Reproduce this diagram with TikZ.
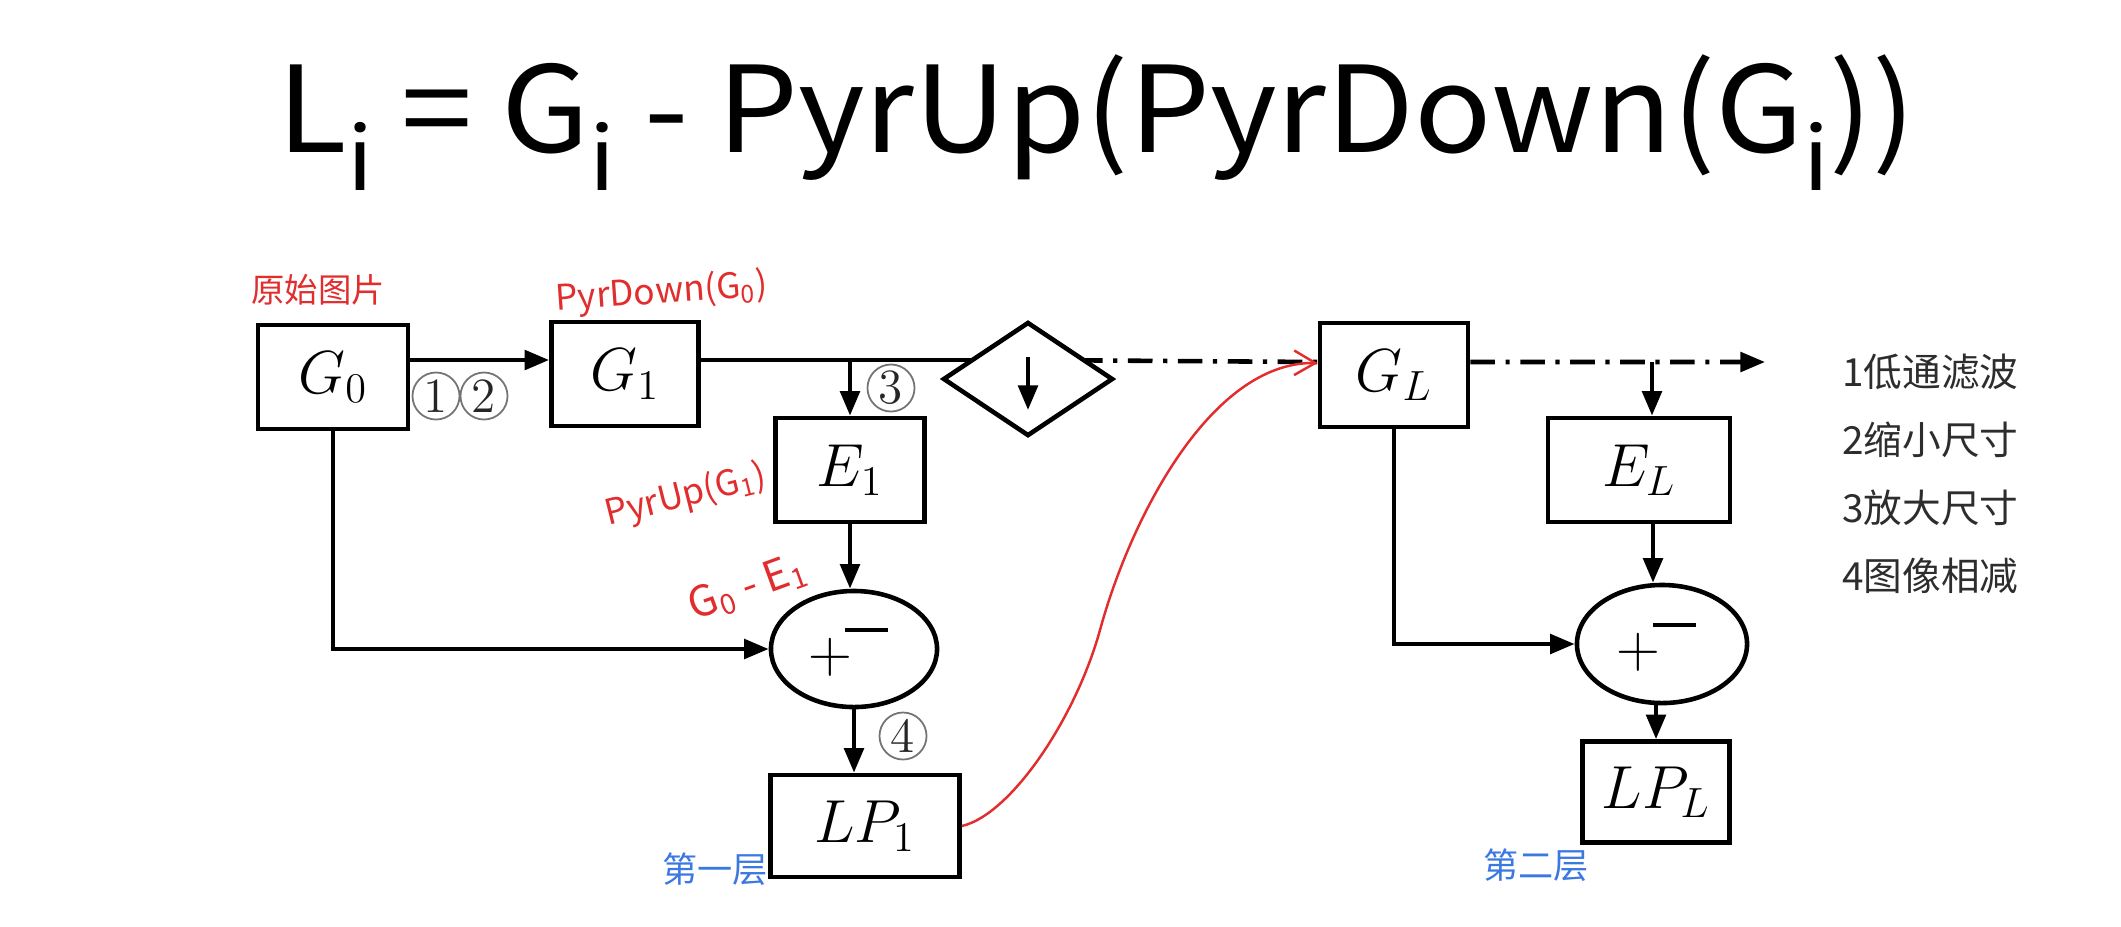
\documentclass[tikz,border=0pt]{standalone}
\usepackage{fontspec}
\newfontfamily\cjkfont{Noto Sans CJK SC}
\usetikzlibrary{arrows.meta, positioning, shapes.geometric, backgrounds}

\definecolor{inkred}{RGB}{225,45,45}
\definecolor{inkblue}{RGB}{60,120,225}
\definecolor{legendgray}{RGB}{45,45,45}

\newcommand{\lowi}{\raisebox{-0.32em}{\fontsize{25}{25}\selectfont i}}

\tikzset{
  blk/.style={draw, line width=1.3pt, fill=white, minimum width=1.5cm,
              minimum height=1.04cm, inner sep=0pt,
              font=\fontsize{17}{20}\selectfont},
  subtr/.style={draw, ellipse, line width=1.3pt, fill=white,
                minimum width=1.66cm, minimum height=1.16cm, inner sep=0pt},
  conn/.style={line width=1.3pt},
  arr/.style={conn, -{Triangle[length=7pt,width=5.5pt]}},
  dashdot/.style={conn, dash pattern=on 7pt off 3pt on 1.2pt off 3pt},
  num/.style={circle, draw=black!55, line width=0.5pt, minimum size=0.47cm,
              inner sep=0pt, text=black!85, font=\fontsize{14}{14}\selectfont},
  note/.style={text=inkred, inner sep=0pt, font=\cjkfont\fontsize{10}{10}\selectfont},
  layer/.style={text=inkblue, font=\cjkfont\fontsize{10}{10}\selectfont},
  legend/.style={anchor=west, text=legendgray,
                 font=\cjkfont\fontsize{11}{11}\selectfont},
}

\begin{document}
\begin{tikzpicture}[x=0.01cm, y=-0.01cm]
  \useasboundingbox (0,0) rectangle (2121,926);

  % formula
  \node[anchor=base west, inner sep=0pt,
        font=\cjkfont\fontsize{34}{34}\selectfont] (formula) at (277,152)
    {\scalebox{1.07}[1]{L\lowi{} = G\lowi{} - PyrUp(PyrDown(G\lowi))}};

  % blocks
  \node[blk] (G0) at (333,377) {$G_0$};
  \node[blk, minimum width=1.47cm] (G1) at (625,374) {$G_1$};
  \node[blk, minimum width=1.49cm] (E1) at (850,470) {$E_1$};
  \node[draw, diamond, line width=1.3pt, fill=white, minimum width=1.7cm,
        minimum height=1.14cm, inner sep=0pt] (dia) at (1028,379) {};
  \node[blk, minimum width=1.48cm] (GL) at (1394,375) {$G_L$};
  \node[blk, minimum width=1.82cm] (EL) at (1639,470) {$E_L$};
  \node[subtr] (sub1) at (854,649) {};
  \node[subtr, minimum width=1.7cm, minimum height=1.18cm] (sub2) at (1662,644) {};
  \node[blk, minimum width=1.89cm, minimum height=1.02cm] (LP1) at (865,826) {$LP_1$};
  \node[blk, minimum width=1.47cm, minimum height=1.01cm] (LPL) at (1656,792) {$LP_L$};

  % signs of the subtractors
  \foreach \s in {sub1, sub2} {
    \node[font=\fontsize{16}{16}\selectfont, inner sep=0pt] (plus-\s)
      at ([xshift=-0.24cm, yshift=-0.08cm]\s.center) {$+$};
    \node[fill=black, minimum width=0.43cm, minimum height=1.3pt,
          inner sep=0pt] (minus-\s) at ([xshift=0.12cm, yshift=0.19cm]\s.center) {};
  }

  % connectors
  \draw[arr] ([yshift=.17cm]G0.east) -- ([yshift=.17cm]G0.east -| G1.west);
  \coordinate (tap1) at ([yshift=.14cm]G1.east -| E1.north);
  \begin{scope}[on background layer]
    \draw[conn] ([yshift=.14cm]G1.east) -- ([yshift=.14cm]G1.east -| dia.center);
    \draw[dashdot] ([yshift=.19cm]dia.center) -- ([yshift=.13cm]GL.west);
  \end{scope}
  \draw[arr] (tap1) -- (E1.north);
  \draw[arr] ([yshift=.22cm]dia.center) -- ([yshift=-.31cm]dia.center);
  \coordinate (out) at (1765,362);
  \coordinate (tap2) at (1652,362);
  \draw[dashdot, -{Triangle[length=7pt,width=5.5pt]}] ([yshift=.13cm]GL.east) -- (out);
  \draw[arr] (tap2) -- (tap2 |- EL.north);
  \draw[arr] (G0.south) |- (sub1.west);
  \draw[arr] (E1.south) -- (E1.south |- sub1.north);
  \draw[arr] (sub1.south) -- (sub1.south |- LP1.north);
  \draw[arr] (GL.south) |- (sub2.west);
  \draw[arr] ([xshift=.14cm]EL.south) -- ([xshift=.14cm]EL.south |- sub2.north);
  \draw[arr] (LPL.north |- sub2.south) -- (LPL.north);

  % step numbers
  \node[num] (n1) at (436,396) {1};
  \node[num] (n2) at (484,396) {2};
  \node[num] (n3) at (891,388) {3};
  \node[num] (n4) at (903,736) {4};

  % handwritten notes
  \node[note, font=\cjkfont\fontsize{9.5}{10}\selectfont] (orig) at (318,290) {原始图片};
  \node[note, rotate=4] (downnote) at (662,293) {PyrDown(G\textsubscript{0})};
  \node[note, rotate=14] (upnote) at (686,496) {PyrUp(G\textsubscript{1})};
  \node[note, rotate=20, font=\cjkfont\fontsize{12}{12}\selectfont] (diffnote)
    at (748,588) {G\textsubscript{0} - E\textsubscript{1}};
  \node[layer] (lay1) at (715,869) {第一层};
  \node[layer] (lay2) at (1536,865) {第二层};
  \coordinate (bend) at (1100,630);
  \draw[inkred, line width=0.7pt, -{Straight Barb[length=6pt,width=7pt]}]
    (LP1.east) .. controls (1010,815) and (1075,720) .. (bend)
    .. controls (1130,520) and (1210,362) .. ([yshift=.12cm]GL.west);

  % legend
  \foreach \t [count=\i] in {1低通滤波, 2缩小尺寸, 3放大尺寸, 4图像相减}
    \node[legend] (leg\i) at (1830,{372+68*(\i-1)}) {\t};
\end{tikzpicture}
\end{document}
